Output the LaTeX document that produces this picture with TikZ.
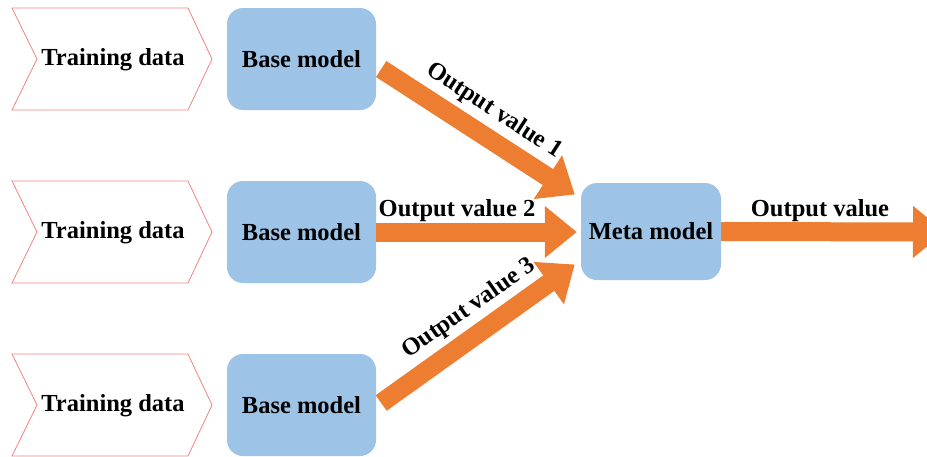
\documentclass[tikz,border=0pt]{standalone}
\usepackage{fontspec}
\setmainfont{Liberation Serif}
\usetikzlibrary{arrows.meta,calc}
\definecolor{chevred}{RGB}{242,130,130}
\definecolor{boxblue}{RGB}{157,195,230}
\definecolor{arrorange}{RGB}{237,125,49}
\tikzset{
  lbl/.style={font=\fontsize{24.5}{27}\selectfont\bfseries, inner sep=0pt},
  chev/.style={draw=chevred, line width=0.8pt},
  basebox/.style={fill=boxblue, rounded corners=16pt, minimum width=149pt, minimum height=102pt, font=\fontsize{24.5}{27}\selectfont\bfseries},
  bigarrow/.style={draw=arrorange, line width=19pt, -{Triangle[width=50pt,length=32pt]}}
}
\begin{document}
\begin{tikzpicture}[x=1pt,y=-1pt]
\useasboundingbox (0,0) rectangle (927,456);
\clip (0,0) rectangle (927,456);
% chevrons
\foreach \cy/\n in {59/t1,232/t2,405/t3}{
  \draw[chev] (12,\cy-51) -- (188,\cy-51) -- (212,\cy) -- (188,\cy+51) -- (12,\cy+51) -- (37,\cy) -- cycle;
  \node[lbl] (\n) at (113,\cy+1) {Training data};
}
% base models
\node[basebox] (b1) at (301.5,59) {Base model};
\node[basebox] (b2) at (301.5,232) {Base model};
\node[basebox] (b3) at (301.5,405) {Base model};
% meta model
\node[basebox, minimum width=140pt, minimum height=97pt] (m) at (651,231.5) {Meta model};
% arrows
\coordinate (e) at (945,232);
\draw[bigarrow] ($(b1.east)+(5,10)$) -- ($(m.west)+(-6,-37)$);
\draw[bigarrow] (b2.east) -- ($(m.west)+(-4,0.5)$);
\draw[bigarrow] ($(b3.east)+(5,-2)$) -- ($(m.west)+(-6,33)$);
\draw[bigarrow] (m.east) -- (e);
% labels
\node[lbl, rotate=-33] (l1) at (494,111) {Output value 1};
\node[lbl, anchor=base] (l2) at (457,216) {Output value 2};
\node[lbl, rotate=35] (l3) at (469,309) {Output value 3};
\node[lbl, anchor=base] (l4) at (820,216) {Output value};
\end{tikzpicture}
\end{document}
